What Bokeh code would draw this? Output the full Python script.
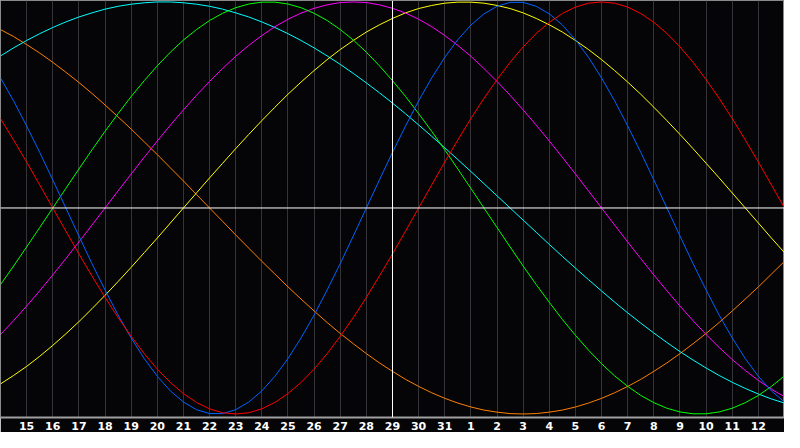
from bokeh.plotting import figure
from bokeh.models import Range1d, FixedTicker, Span
from bokeh.embed import file_html
from bokeh.resources import INLINE

# Day labels along the x axis (index 0 .. 30)
days = [14, 15, 16, 17, 18, 19, 20, 21, 22, 23, 24, 25, 26, 27, 28, 29, 30, 31,
        1, 2, 3, 4, 5, 6, 7, 8, 9, 10, 11, 12, 13]
day_index = list(range(len(days)))
# sample positions: every half day from index 0 to 30
sample_pos = [i / 2 for i in range(61)]

# Cycle values, one per half day (-1 .. 1)
physical = [0.631, 0.520, 0.398, 0.270, 0.136, 0.0, -0.136, -0.270, -0.398, -0.520,
            -0.631, -0.731, -0.817, -0.888, -0.942, -0.979, -0.998, -0.998, -0.979, -0.942,
            -0.888, -0.817, -0.731, -0.631, -0.520, -0.398, -0.270, -0.136, 0.0, 0.136,
            0.270, 0.398, 0.520, 0.631, 0.731, 0.817, 0.888, 0.942, 0.979, 0.998,
            0.998, 0.979, 0.942, 0.888, 0.817, 0.731, 0.631, 0.520, 0.398, 0.270,
            0.136, 0.0, -0.136, -0.270, -0.398, -0.520, -0.631, -0.731, -0.817, -0.888,
            -0.942]
emotional = [0.434, 0.330, 0.223, 0.112, 0.0, -0.112, -0.223, -0.330, -0.434, -0.532,
             -0.623, -0.707, -0.782, -0.847, -0.901, -0.944, -0.975, -0.994, -1.0, -0.994,
             -0.975, -0.944, -0.901, -0.847, -0.782, -0.707, -0.623, -0.532, -0.434, -0.330,
             -0.223, -0.112, 0.0, 0.112, 0.223, 0.330, 0.434, 0.532, 0.623, 0.707,
             0.782, 0.847, 0.901, 0.944, 0.975, 0.994, 1.0, 0.994, 0.975, 0.944,
             0.901, 0.847, 0.782, 0.707, 0.623, 0.532, 0.434, 0.330, 0.223, 0.112,
             0.0]
intellectual = [-0.372, -0.282, -0.189, -0.095, 0.0, 0.095, 0.189, 0.282, 0.372, 0.458,
                0.541, 0.618, 0.690, 0.756, 0.815, 0.866, 0.910, 0.945, 0.972, 0.990,
                0.999, 0.999, 0.990, 0.972, 0.945, 0.910, 0.866, 0.815, 0.756, 0.690,
                0.618, 0.541, 0.458, 0.372, 0.282, 0.189, 0.095, 0.0, -0.095, -0.189,
                -0.282, -0.372, -0.458, -0.541, -0.618, -0.690, -0.756, -0.815, -0.866, -0.910,
                -0.945, -0.972, -0.990, -0.999, -0.999, -0.990, -0.972, -0.945, -0.910, -0.866,
                -0.815]
intuitive = [-0.614, -0.547, -0.476, -0.402, -0.325, -0.246, -0.165, -0.083, 0.0, 0.083,
             0.165, 0.246, 0.325, 0.402, 0.476, 0.547, 0.614, 0.677, 0.736, 0.789,
             0.837, 0.880, 0.916, 0.946, 0.969, 0.986, 0.997, 1.0, 0.997, 0.986,
             0.969, 0.946, 0.916, 0.880, 0.837, 0.789, 0.736, 0.677, 0.614, 0.547,
             0.476, 0.402, 0.325, 0.246, 0.165, 0.083, 0.0, -0.083, -0.165, -0.246,
             -0.325, -0.402, -0.476, -0.547, -0.614, -0.677, -0.736, -0.789, -0.837, -0.880,
             -0.916]
aesthetic = [-0.854, -0.813, -0.769, -0.720, -0.667, -0.611, -0.552, -0.489, -0.424, -0.357,
             -0.288, -0.217, -0.146, -0.073, 0.0, 0.073, 0.146, 0.217, 0.288, 0.357,
             0.424, 0.489, 0.552, 0.611, 0.667, 0.720, 0.769, 0.813, 0.854, 0.889,
             0.920, 0.947, 0.968, 0.983, 0.994, 0.999, 0.999, 0.994, 0.983, 0.968,
             0.947, 0.920, 0.889, 0.854, 0.813, 0.769, 0.720, 0.667, 0.611, 0.552,
             0.489, 0.424, 0.357, 0.288, 0.217, 0.146, 0.073, 0.0, -0.073, -0.146,
             -0.217]
awareness = [0.866, 0.832, 0.793, 0.752, 0.707, 0.659, 0.609, 0.556, 0.5, 0.442,
             0.383, 0.321, 0.259, 0.195, 0.131, 0.065, 0.0, -0.065, -0.131, -0.195,
             -0.259, -0.321, -0.383, -0.442, -0.5, -0.556, -0.609, -0.659, -0.707, -0.752,
             -0.793, -0.832, -0.866, -0.897, -0.924, -0.947, -0.966, -0.981, -0.991, -0.998,
             -1.0, -0.998, -0.991, -0.981, -0.966, -0.947, -0.924, -0.897, -0.866, -0.832,
             -0.793, -0.752, -0.707, -0.659, -0.609, -0.556, -0.5, -0.442, -0.383, -0.321,
             -0.259]
spiritual = [0.738, 0.777, 0.813, 0.846, 0.876, 0.903, 0.927, 0.947, 0.965, 0.979,
             0.989, 0.996, 1.0, 1.0, 0.996, 0.989, 0.979, 0.965, 0.947, 0.927,
             0.903, 0.876, 0.846, 0.813, 0.777, 0.738, 0.697, 0.653, 0.607, 0.559,
             0.509, 0.457, 0.403, 0.348, 0.292, 0.235, 0.177, 0.118, 0.059, 0.0,
             -0.059, -0.118, -0.177, -0.235, -0.292, -0.348, -0.403, -0.457, -0.509, -0.559,
             -0.607, -0.653, -0.697, -0.738, -0.777, -0.813, -0.846, -0.876, -0.903, -0.927,
             -0.947]

series = [
    (awareness, "#ff8000"),
    (spiritual, "#00ffff"),
    (aesthetic, "#ffff00"),
    (intuitive, "#ff00ff"),
    (intellectual, "#00ff00"),
    (physical, "#0064ff"),
    (emotional, "#ff0000"),
]

today_index = 15

p = figure(width=784, height=432, output_backend="svg", toolbar_location=None,
           x_range=Range1d(0, 30), y_range=Range1d(-1.017, 1.007),
           y_axis_location=None,
           min_border_left=0, min_border_right=0, min_border_top=0, min_border_bottom=0)

p.background_fill_color = "#050508"
p.border_fill_color = "#050508"
p.outline_line_color = "#8a8a8a"
p.outline_line_width = 1

p.xaxis.ticker = FixedTicker(ticks=day_index[1:-1])
p.xaxis.major_label_overrides = {i: str(days[i]) for i in day_index}
p.xaxis.major_tick_line_color = None
p.xaxis.minor_tick_line_color = None
p.xaxis.major_tick_out = 0
p.xaxis.major_tick_in = 0
p.xaxis.axis_line_color = "#a0a0a0"
p.xaxis.axis_line_width = 2
p.xaxis.major_label_text_color = "white"
p.xaxis.major_label_text_font = "DejaVu Sans"
p.xaxis.major_label_text_font_style = "bold"
p.xaxis.major_label_text_font_size = "11px"
p.xaxis.major_label_standoff = 4

p.xgrid.grid_line_color = "#343438"
p.xgrid.grid_line_width = 1
p.ygrid.grid_line_color = None

p.add_layout(Span(location=0, dimension="width", line_color="white", line_width=1))
p.add_layout(Span(location=today_index, dimension="height", line_color="white", line_width=1))

for vals, col in series:
    p.line(sample_pos, vals, line_color=col, line_width=1)

open("out.html", "w").write(file_html(p, INLINE))
